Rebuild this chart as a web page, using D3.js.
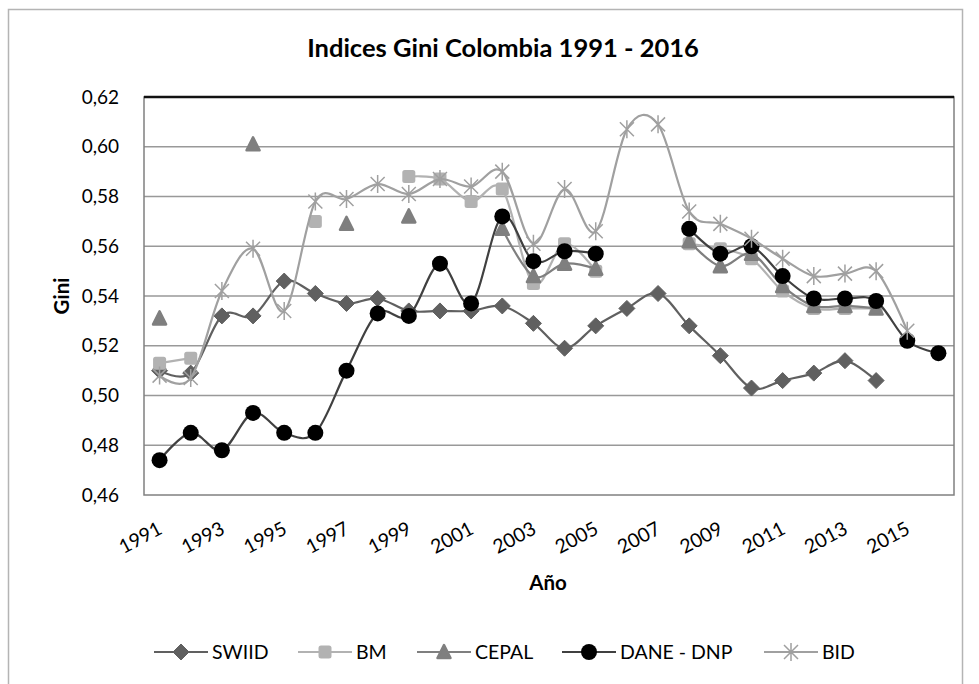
<!DOCTYPE html>
<html>
<head>
<meta charset="utf-8">
<script src="https://cdn.jsdelivr.net/npm/d3@7"></script>
<style>
  body { margin: 0; background: #fff; }
  text { font-family: Lato, "Open Sans", sans-serif; fill: #000; }
</style>
</head>
<body>
<script>
// categories
var years = [1991, 1992, 1993, 1994, 1995, 1996, 1997, 1998, 1999, 2000, 2001, 2002, 2003,
             2004, 2005, 2006, 2007, 2008, 2009, 2010, 2011, 2012, 2013, 2014, 2015, 2016];
var tickYears = [1991, 1993, 1995, 1997, 1999, 2001, 2003, 2005, 2007, 2009, 2011, 2013, 2015];
var yTicks = [0.46, 0.48, 0.50, 0.52, 0.54, 0.56, 0.58, 0.60, 0.62];

// series values (null = no data)
var swiid = [0.510, 0.509, 0.532, 0.532, 0.546, 0.541, 0.537, 0.539, 0.534, 0.534, 0.534, 0.536, 0.529,
             0.519, 0.528, 0.535, 0.541, 0.528, 0.516, 0.503, 0.506, 0.509, 0.514, 0.506, null, null];
var bm = [0.513, 0.515, null, null, null, 0.570, null, null, 0.588, 0.587, 0.578, 0.583, 0.545,
          0.561, 0.550, null, null, 0.561, 0.559, 0.555, 0.542, 0.535, 0.535, 0.535, null, null];
var cepal = [0.531, null, null, 0.601, null, null, 0.569, null, 0.572, null, null, 0.567, 0.548,
             0.553, 0.551, null, null, 0.562, 0.552, 0.557, 0.544, 0.536, 0.536, 0.535, null, null];
var dane = [0.474, 0.485, 0.478, 0.493, 0.485, 0.485, 0.510, 0.533, 0.532, 0.553, 0.537, 0.572, 0.554,
            0.558, 0.557, null, null, 0.567, 0.557, 0.560, 0.548, 0.539, 0.539, 0.538, 0.522, 0.517];
var bid = [0.508, 0.507, 0.542, 0.559, 0.534, 0.578, 0.579, 0.585, 0.581, 0.587, 0.584, 0.590, 0.561,
           0.583, 0.566, 0.607, 0.609, 0.574, 0.569, 0.563, 0.555, 0.548, 0.549, 0.550, 0.526, null];

var seriesNames = ["SWIID", "BM", "CEPAL", "DANE - DNP", "BID"];

var W = 979, H = 684;
var plot = {left: 144, right: 954, top: 97, bottom: 495};

var svg = d3.select("body").append("svg")
    .attr("width", W)
    .attr("height", H);

// outer chart border
svg.append("rect")
    .attr("x", 8.5).attr("y", 9.5)
    .attr("width", 954).attr("height", 700)
    .attr("fill", "none")
    .attr("stroke", "#b4b4b4")
    .attr("stroke-width", 1.5);

var x = d3.scaleBand().domain(years).range([plot.left, plot.right]);
var y = d3.scaleLinear().domain([0.46, 0.62]).range([plot.bottom, plot.top]);
var cx = function(yr) { return x(yr) + x.bandwidth() / 2; };

var locale = d3.formatLocale({decimal: ",", thousands: ".", grouping: [3], currency: ["", ""]});
var fmt = locale.format(".2f");

// gridlines
svg.append("g")
    .selectAll("line")
    .data(yTicks.slice(1, -1))
    .enter()
    .append("line")
    .attr("x1", plot.left).attr("x2", plot.right)
    .attr("y1", d => y(d)).attr("y2", d => y(d))
    .attr("stroke", "#999")
    .attr("stroke-width", 1.5);

// plot frame
svg.append("rect")
    .attr("x", plot.left).attr("y", plot.top)
    .attr("width", plot.right - plot.left).attr("height", plot.bottom - plot.top)
    .attr("fill", "none")
    .attr("stroke", "#808080")
    .attr("stroke-width", 1.5);
svg.append("line")
    .attr("x1", plot.left).attr("x2", plot.right)
    .attr("y1", y(0.62)).attr("y2", y(0.62))
    .attr("stroke", "#111")
    .attr("stroke-width", 2.5);

// y axis
var yAxis = svg.append("g")
    .attr("transform", "translate(" + plot.left + ",0)")
    .call(d3.axisLeft(y).tickValues(yTicks).tickFormat(fmt).tickSize(0).tickPadding(25));
yAxis.select(".domain").remove();
yAxis.selectAll("text")
    .style("font-family", "Lato, sans-serif")
    .style("font-size", "19px")
    .attr("fill", "#000");

// x axis labels
var xAxis = svg.append("g")
    .attr("transform", "translate(0," + plot.bottom + ")")
    .call(d3.axisBottom(x).tickValues(tickYears).tickSize(0).tickPadding(0));
xAxis.select(".domain").remove();
xAxis.selectAll("text")
    .style("font-family", "Lato, sans-serif")
    .style("font-size", "19.5px")
    .attr("fill", "#000")
    .attr("text-anchor", "end")
    .attr("dy", 0)
    .attr("y", 0)
    .attr("transform", "translate(4,38) rotate(-28)");

// titles
svg.append("text")
    .attr("x", 503).attr("y", 57)
    .attr("text-anchor", "middle")
    .style("font-size", "25.5px").style("font-weight", "bold")
    .text("Indices Gini Colombia 1991 - 2016");
svg.append("text")
    .attr("x", 548).attr("y", 590)
    .attr("text-anchor", "middle")
    .style("font-size", "20.5px").style("font-weight", "bold")
    .text("Año");
svg.append("text")
    .attr("transform", "translate(69,296) rotate(-90)")
    .attr("text-anchor", "middle")
    .style("font-size", "20.5px").style("font-weight", "bold")
    .text("Gini");

// series styles
var styles = [
    {name: "SWIID", data: swiid, line: "#606060", marker: "diamond", fill: "#606060"},
    {name: "BM", data: bm, line: "#b2b2b2", marker: "square", fill: "#b2b2b2"},
    {name: "CEPAL", data: cepal, line: "#7f7f7f", marker: "triangle", fill: "#7f7f7f"},
    {name: "DANE - DNP", data: dane, line: "#404040", marker: "circle", fill: "#000"},
    {name: "BID", data: bid, line: "#a0a0a0", marker: "star", fill: "#a0a0a0"}
];

function drawMarker(g, type, color) {
    if (type === "diamond") {
        g.append("path").attr("d", "M0,-8L8,0L0,8L-8,0Z")
            .attr("fill", color).attr("stroke", color).attr("stroke-linejoin", "round");
    } else if (type === "square") {
        g.append("rect").attr("x", -6.5).attr("y", -6.5).attr("width", 13).attr("height", 13)
            .attr("rx", 2.5).attr("fill", color);
    } else if (type === "triangle") {
        g.append("path").attr("d", "M0,-7L6.5,6L-6.5,6Z")
            .attr("fill", color).attr("stroke", color).attr("stroke-width", 2.5)
            .attr("stroke-linejoin", "round");
    } else if (type === "circle") {
        g.append("circle").attr("r", 8).attr("fill", color);
    } else if (type === "star") {
        g.append("path").attr("d", "M-7,-7L7,7M-7,7L7,-7M0,-9V9")
            .attr("fill", "none").attr("stroke", color).attr("stroke-width", 1.5);
    }
}

var line = d3.line()
    .defined(d => d.v != null)
    .x(d => cx(d.year))
    .y(d => y(d.v))
    .curve(d3.curveCatmullRom.alpha(0));

styles.forEach(function(s) {
    var pts = years.map((yr, i) => ({year: yr, v: s.data[i]}));
    var g = svg.append("g");
    g.append("path")
        .datum(pts)
        .attr("d", line)
        .attr("fill", "none")
        .attr("stroke", s.line)
        .attr("stroke-width", 2.2);
    g.selectAll("g.pt")
        .data(pts.filter(d => d.v != null))
        .enter()
        .append("g")
        .attr("class", "pt")
        .attr("transform", d => "translate(" + cx(d.year) + "," + y(d.v) + ")")
        .each(function() { drawMarker(d3.select(this), s.marker, s.fill); });
});

// legend
var legendX = [154, 298, 417, 562, 764];
var legend = svg.append("g").attr("transform", "translate(0,652)");
styles.forEach(function(s, i) {
    var lg = legend.append("g").attr("transform", "translate(" + legendX[i] + ",0)");
    lg.append("line").attr("x1", 0).attr("x2", 54).attr("y1", 0).attr("y2", 0)
        .attr("stroke", s.line).attr("stroke-width", 2.2);
    drawMarker(lg.append("g").attr("transform", "translate(27,0)"), s.marker, s.fill);
    lg.append("text").attr("x", 58).attr("y", 7)
        .style("font-size", "19.5px")
        .text(seriesNames[i]);
});
</script>
</body>
</html>
